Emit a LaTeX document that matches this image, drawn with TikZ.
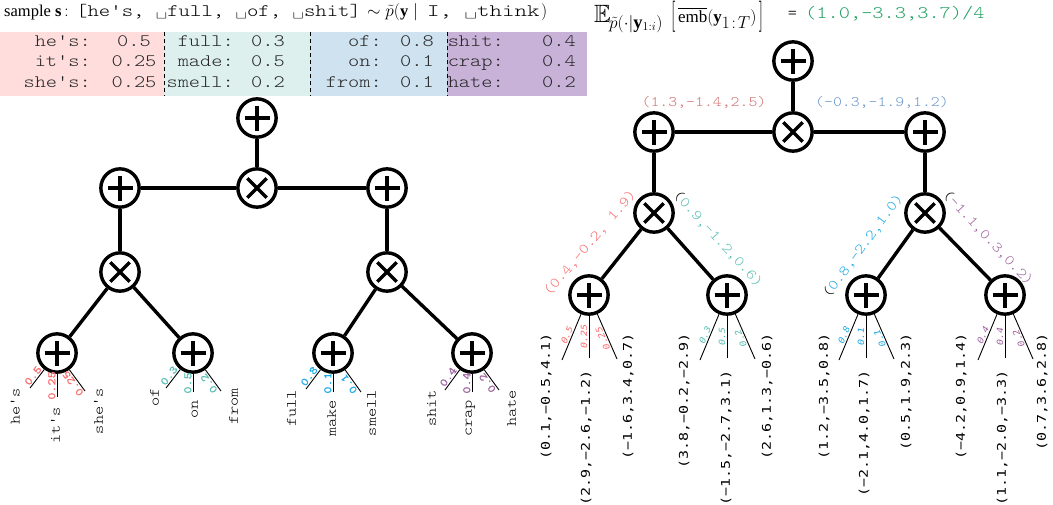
\documentclass[tikz,border=0pt]{standalone}
\usepackage{amsmath,amssymb}
\usepackage{graphicx}
\usepackage{fontspec}
\setmainfont{Liberation Serif}
\newfontfamily\cour{lmmonolt10-regular.otf}
\newfontfamily\courB{lmmono10-regular.otf}[FakeBold=1]
\newfontfamily\dvm{DejaVu Sans Mono}
\newcommand\kx{1}
\newcommand\sx[1]{\scalebox{\kx}[1]{#1}}
\newcommand\tallbr[1]{\raisebox{-2pt}{\scalebox{1}[1.8]{$#1$}}}
\definecolor{cRed}{HTML}{FA6E6E}
\definecolor{cTeal}{HTML}{5ABEB4}
\definecolor{cBlue}{HTML}{1EAAE6}
\definecolor{cPurp}{HTML}{A064A0}
\definecolor{cMRed}{HTML}{D07272}
\definecolor{cMBlue}{HTML}{6A96C8}
\definecolor{cGreen}{HTML}{1FA060}
\definecolor{bgPink}{HTML}{FFDDDD}
\definecolor{bgTeal}{HTML}{DDF0EE}
\definecolor{bgBlue}{HTML}{CFE2EF}
\definecolor{bgPurp}{HTML}{C8B2D8}
\tikzset{
  op/.style={circle, draw, line width=3.4pt, minimum size=38.3pt, inner sep=0pt},
  plusop/.style={op, path picture={
    \draw[line width=3.4pt] ([xshift=-12.5pt]path picture bounding box.center) -- ([xshift=12.5pt]path picture bounding box.center);
    \draw[line width=3.4pt] ([yshift=-12.5pt]path picture bounding box.center) -- ([yshift=12.5pt]path picture bounding box.center);}},
  timesop/.style={op, path picture={
    \draw[line width=3.4pt] ([shift={(-9.7pt,-9.7pt)}]path picture bounding box.center) -- ([shift={(9.7pt,9.7pt)}]path picture bounding box.center);
    \draw[line width=3.4pt] ([shift={(-9.7pt,9.7pt)}]path picture bounding box.center) -- ([shift={(9.7pt,-9.7pt)}]path picture bounding box.center);}},
  edge/.style={line width=3.4pt},
  leafline/.style={line width=0.9pt},
  probL/.style={sloped, above, allow upside down, inner sep=1.2pt, font=\courB\fontsize{11.3}{12}\selectfont, execute at begin node={\def\kx{1.2}}},
  probR/.style={sloped, above, allow upside down, inner sep=1.2pt, font=\dvm\itshape\fontsize{8.6}{9}\selectfont, execute at begin node={\def\kx{1.15}}},
  word/.style={rotate=90, anchor=east, inner sep=0pt, text height=0.7em, text depth=0.15em, font=\cour\fontsize{14.3}{15}\selectfont, execute at begin node={\def\kx{1.22}}},
  vec/.style={rotate=90, anchor=east, inner sep=0pt, text height=0.75em, text depth=0.2em, font=\dvm\fontsize{12}{13}\selectfont, execute at begin node={\def\kx{1.25}}},
  midvec/.style={inner sep=0pt, font=\cour\fontsize{14.5}{16}\selectfont, execute at begin node={\def\kx{1.17}}},
  tab/.style={inner sep=0pt, text=black!85, font=\cour\fontsize{17.5}{19}\selectfont, execute at begin node={\def\kx{1.22}}},
  ttlser/.style={inner sep=0pt, anchor=base west, font=\fontsize{16.5}{20}\selectfont},
  ttlmono/.style={inner sep=0pt, anchor=base west, font=\cour\fontsize{17.5}{20}\selectfont},
  sep/.style={line width=0.7pt, dash pattern=on 4pt off 3pt},
}
\begin{document}
\begin{tikzpicture}[x=1pt,y=-1pt]
\useasboundingbox (0,0) rectangle (1053,504);

% ---------- left title ----------
\node[ttlser] (tA) at (4,16.5) {sample $\mathbf{s}\,{:}$};
\node[ttlmono] (tB) at (76,16.5) {\scalebox{1.24}[1]{[he's, \textvisiblespace full, \textvisiblespace of, \textvisiblespace shit]}};
\node[ttlser] (tC) at (367,16.5) {$\sim\tilde{p}(\mathbf{y}\mid{}$};
\node[ttlmono] (tD) at (427,16.5) {\scalebox{1.36}[1]{I, \textvisiblespace think}};
\node[ttlser] (tE) at (541,16.5) {$)$};

% ---------- right title ----------
\node[inner sep=0pt, anchor=base west, font=\fontsize{25}{26}\selectfont] (rA) at (594,22.5) {$\mathbb{E}$};
\node[inner sep=0pt, anchor=base west, font=\fontsize{18.5}{20}\selectfont] (rB) at (609,28) {$\tilde{p}(\cdot|\mathbf{y}_{1:i})$};
\node[inner sep=0pt, anchor=base west, font=\fontsize{17}{20}\selectfont] (rC) at (671,22.5)
  {\tallbr{[}\hspace{2.5pt}$\overline{\mathrm{emb}}(\mathbf{y}$\raisebox{-6pt}{$1\!:\!T$}$)$\hspace{2.5pt}\tallbr{]}};
\node[ttlmono, anchor=base] (rD) at (792.5,18) {=};
\node[ttlmono, text=cGreen] (rE) at (805,18) {\scalebox{1.22}[1]{(1.0,-3.3,3.7)/4}};

% ---------- table ----------
\fill[bgPink] (0,32) rectangle (164,95.5);
\fill[bgTeal] (164,32) rectangle (310,95.5);
\fill[bgBlue] (310,32) rectangle (447,95.5);
\fill[bgPurp] (447,32) rectangle (587,95.5);
\draw[sep] (164,32) -- (164,95.5);
\draw[sep] (310,32) -- (310,95.5);
\draw[sep] (447,32) -- (447,95.5);
\foreach \c/\lx/\nx/\la/\lb/\lc/\na/\nb/\nc in {
  1/91/134/he's:/it's:/she's:/0.5/0.25/0.25,
  2/234/268/full:/made:/smell:/0.3/0.5/0.2,
  3/382/417/of:/on:/from:/0.8/0.1/0.1,
  4/504/559/shit:/crap:/hate:/0.4/0.4/0.2}{
  \node[tab, anchor=base east] (tl\c a) at (\lx,46.5) {\sx{\la}};
  \node[tab, anchor=base east] (tl\c b) at (\lx,66.8) {\sx{\lb}};
  \node[tab, anchor=base east] (tl\c c) at (\lx,87) {\sx{\lc}};
  \node[tab, anchor=base] (tn\c a) at (\nx,46.5) {\sx{\na}};
  \node[tab, anchor=base] (tn\c b) at (\nx,66.8) {\sx{\nb}};
  \node[tab, anchor=base] (tn\c c) at (\nx,87) {\sx{\nc}};
}

% ---------- left tree ----------
\node[plusop] (LT0) at (257,118) {};
\node[plusop] (LT1a) at (120,188) {};
\node[timesop] (LT1x) at (257,188) {};
\node[plusop] (LT1b) at (387,188) {};
\node[timesop] (LT2a) at (120,272) {};
\node[timesop] (LT2b) at (387,272) {};
\node[plusop] (L1) at (57,353) {};
\node[plusop] (L2) at (193,353) {};
\node[plusop] (L3) at (333,353) {};
\node[plusop] (L4) at (472,353) {};
\draw[edge] (LT0) -- (LT1x);
\draw[edge] (LT1x) -- (LT1a);
\draw[edge] (LT1x) -- (LT1b);
\draw[edge] (LT1a) -- (LT2a);
\draw[edge] (LT1b) -- (LT2b);
\draw[edge] (LT2a) -- (L1);
\draw[edge] (LT2a) -- (L2);
\draw[edge] (LT2b) -- (L3);
\draw[edge] (LT2b) -- (L4);

\coordinate (L1a) at (30,388); \coordinate (L1b) at (57,397); \coordinate (L1c) at (85,391);
\coordinate (L2a) at (166,388); \coordinate (L2b) at (193,392); \coordinate (L2c) at (221,391);
\coordinate (L3a) at (306,389); \coordinate (L3b) at (333,392); \coordinate (L3c) at (361,392);
\coordinate (L4a) at (445,390); \coordinate (L4b) at (472,392); \coordinate (L4c) at (499,390);

\draw[leafline] (L1a) -- (L1) node[midway, probL, text=cRed] {\sx{0.5}};
\draw[leafline] (L1b) -- (L1) node[midway, probL, text=cRed] {\sx{0.25}};
\draw[leafline] (L1c) -- (L1) node[midway, probL, text=cRed] {\sx{0.25}};
\draw[leafline] (L2a) -- (L2) node[midway, probL, text=cTeal] {\sx{0.3}};
\draw[leafline] (L2b) -- (L2) node[midway, probL, text=cTeal] {\sx{0.5}};
\draw[leafline] (L2c) -- (L2) node[midway, probL, text=cTeal] {\sx{0.2}};
\draw[leafline] (L3a) -- (L3) node[midway, probL, text=cBlue] {\sx{0.8}};
\draw[leafline] (L3b) -- (L3) node[midway, probL, text=cBlue] {\sx{0.1}};
\draw[leafline] (L3c) -- (L3) node[midway, probL, text=cBlue] {\sx{0.1}};
\draw[leafline] (L4a) -- (L4) node[midway, probL, text=cPurp] {\sx{0.4}};
\draw[leafline] (L4b) -- (L4) node[midway, probL, text=cPurp] {\sx{0.4}};
\draw[leafline] (L4c) -- (L4) node[midway, probL, text=cPurp] {\sx{0.2}};

\node[word] (w1a) at (17,388) {\sx{he's}};
\node[word] (w1b) at (57,407) {\sx{it's}};
\node[word] (w1c) at (100,388) {\sx{she's}};
\node[word] (w2a) at (156,388) {\sx{of}};
\node[word] (w2b) at (195,400) {\sx{on}};
\node[word] (w2c) at (235,388) {\sx{from}};
\node[word] (w3a) at (293,390) {\sx{full}};
\node[word] (w3b) at (333,400) {\sx{make}};
\node[word] (w3c) at (373,390) {\sx{smell}};
\node[word] (w4a) at (433,390) {\sx{shit}};
\node[word] (w4b) at (469,400) {\sx{crap}};
\node[word] (w4c) at (513,390) {\sx{hate}};

% ---------- right tree ----------
\node[plusop] (RT0) at (793,61) {};
\node[plusop] (RT1a) at (654,132) {};
\node[timesop] (RT1x) at (793,132) {};
\node[plusop] (RT1b) at (925,132) {};
\node[timesop] (RT2a) at (654,213) {};
\node[timesop] (RT2b) at (925,213) {};
\node[plusop] (R3) at (589,295) {};
\node[plusop] (R4) at (727,295) {};
\node[plusop] (R5) at (866,295) {};
\node[plusop] (R6) at (1005,295) {};
\draw[edge] (RT0) -- (RT1x);
\draw[edge] (RT1x) -- (RT1a);
\draw[edge] (RT1x) -- (RT1b);
\draw[edge] (RT1a) -- (RT2a);
\draw[edge] (RT1b) -- (RT2b);
\draw[edge] (RT2a) -- (R3);
\draw[edge] (RT2a) -- (R4);
\draw[edge] (RT2b) -- (R5);
\draw[edge] (RT2b) -- (R6);

\node[midvec, text=cMRed] (v1a) at (704,102) {\sx{(1.3,-1.4,2.5)}};
\node[midvec, text=cMBlue] (v1b) at (882,102) {\sx{(-0.3,-1.9,1.2)}};
\node[midvec, text=cRed, rotate=49.5] (v2a) at (590,243) {\sx{(0.4,-0.2, 1.9)}};
\node[midvec, text=cTeal, rotate=-47.5] (v2b) at (718,239) {\sx{\textcolor{black}{(}0.9,-1.2,0.6)}};
\node[midvec, text=cBlue, rotate=53.5] (v2c) at (863,246) {\sx{\textcolor{black}{(}0.8,-2.2,1.0)}};
\node[midvec, text=cPurp, rotate=-46.8] (v2d) at (988,238) {\sx{\textcolor{black}{(}-1.1,0.3,0.2)}};

\coordinate (R3a) at (562,360); \coordinate (R3b) at (589,358); \coordinate (R3c) at (617,359);
\coordinate (R4a) at (700,360); \coordinate (R4b) at (727,358); \coordinate (R4c) at (755,359);
\coordinate (R5a) at (839,360); \coordinate (R5b) at (866,358); \coordinate (R5c) at (894,359);
\coordinate (R6a) at (978,360); \coordinate (R6b) at (1005,358); \coordinate (R6c) at (1033,359);

\draw[leafline] (R3a) -- (R3) node[midway, probR, text=cRed] {\sx{0.5}};
\draw[leafline] (R3b) -- (R3) node[midway, probR, text=cRed] {\sx{0.25}};
\draw[leafline] (R3c) -- (R3) node[midway, probR, text=cRed] {\sx{0.25}};
\draw[leafline] (R4a) -- (R4) node[midway, probR, text=cTeal] {\sx{0.3}};
\draw[leafline] (R4b) -- (R4) node[midway, probR, text=cTeal] {\sx{0.5}};
\draw[leafline] (R4c) -- (R4) node[midway, probR, text=cTeal] {\sx{0.2}};
\draw[leafline] (R5a) -- (R5) node[midway, probR, text=cBlue] {\sx{0.8}};
\draw[leafline] (R5b) -- (R5) node[midway, probR, text=cBlue] {\sx{0.1}};
\draw[leafline] (R5c) -- (R5) node[midway, probR, text=cBlue] {\sx{0.1}};
\draw[leafline] (R6a) -- (R6) node[midway, probR, text=cPurp] {\sx{0.4}};
\draw[leafline] (R6b) -- (R6) node[midway, probR, text=cPurp] {\sx{0.4}};
\draw[leafline] (R6c) -- (R6) node[midway, probR, text=cPurp] {\sx{0.2}};

\node[vec] (x3a) at (547,333) {\sx{(0.1,−0.5,4.1)}};
\node[vec] (x3b) at (587,370) {\sx{(2.9,−2.6,−1.2)}};
\node[vec] (x3c) at (629,333) {\sx{(−1.6,3.4,0.7)}};
\node[vec] (x4a) at (685,333) {\sx{(3.8,−0.2,−2.9)}};
\node[vec] (x4b) at (727,370) {\sx{(−1.5,−2.7,3.1)}};
\node[vec] (x4c) at (768,333) {\sx{(2.6,1.3,−0.6)}};
\node[vec] (x5a) at (825,333) {\sx{(1.2,−3.5,0.8)}};
\node[vec] (x5b) at (865,370) {\sx{(−2.1,4.0,1.7)}};
\node[vec] (x5c) at (907,333) {\sx{(0.5,1.9,2.3)}};
\node[vec] (x6a) at (962,333) {\sx{(−4.2,0.9,1.4)}};
\node[vec] (x6b) at (1003,370) {\sx{(1.1,−2.0,−3.3)}};
\node[vec] (x6c) at (1043,333) {\sx{(0.7,3.6,2.8)}};
\end{tikzpicture}
\end{document}
